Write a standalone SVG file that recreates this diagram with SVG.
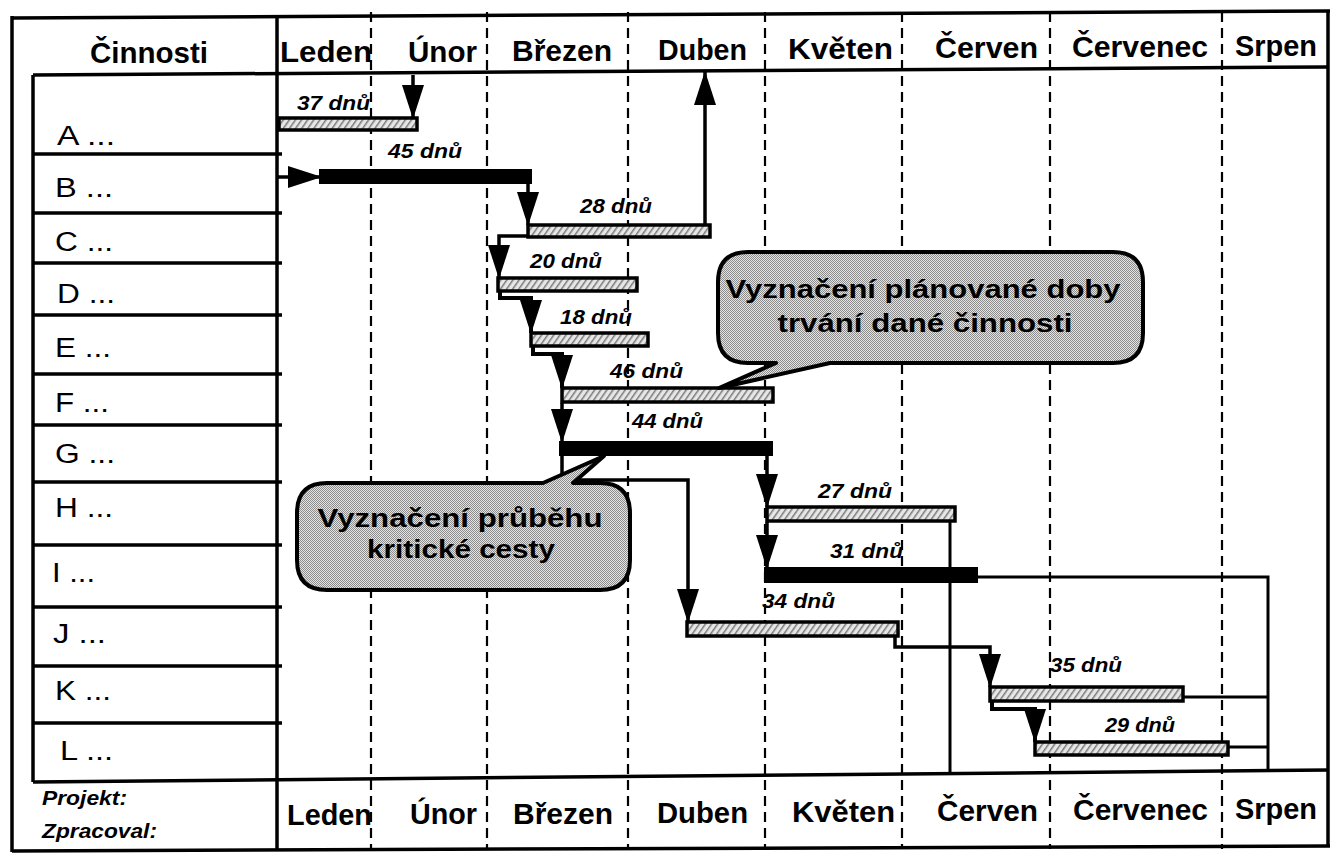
<svg xmlns="http://www.w3.org/2000/svg" width="1335" height="853" viewBox="0 0 1335 853">
<defs>
<style>
.frame{fill:none;stroke:#000;stroke-width:3.5}
.grid{fill:none;stroke:#000;stroke-width:2.2;stroke-dasharray:10 6}
.month{font-family:"Liberation Sans",Arial,sans-serif;font-weight:bold;font-size:29px}
.act{font-family:"Liberation Sans",Arial,sans-serif;font-size:27px}
.meta{font-family:"Liberation Sans",Arial,sans-serif;font-weight:bold;font-style:italic;font-size:20px}
.dur{font-family:"Liberation Sans",Arial,sans-serif;font-weight:bold;font-style:italic;font-size:21px}
.bar{fill:url(#hatch);stroke:#000;stroke-width:3.5}
.crit{fill:#000;stroke:#000;stroke-width:2}
.conn{fill:none;stroke:#000;stroke-width:3.5;marker-end:url(#arr)}
.link{fill:none;stroke:#000;stroke-width:3}
.callout{fill:url(#dither);stroke:#000;stroke-width:4;stroke-linejoin:round}
.ctext{font-family:"Liberation Sans",Arial,sans-serif;font-weight:bold;font-size:26px;text-anchor:middle}
</style>
<pattern id="hatch" width="5" height="5" patternUnits="userSpaceOnUse" patternTransform="rotate(35)">
<rect width="5" height="5" fill="#e6e6e6"/><rect width="1.5" height="5" fill="#7a7a7a"/>
</pattern>
<pattern id="dither" width="2" height="2" patternUnits="userSpaceOnUse">
<rect width="2" height="2" fill="#e4e4e4"/><rect width="1" height="1" fill="#8c8c8c"/><rect x="1" y="1" width="1" height="1" fill="#8c8c8c"/>
</pattern>
<marker id="arr" markerUnits="userSpaceOnUse" viewBox="0 0 34 22" markerWidth="34" markerHeight="22" refX="33" refY="11" orient="auto">
<path d="M0,0 L34,11 L0,22 Z" fill="#000"/>
</marker>
</defs>
<rect width="1335" height="853" fill="#fff"/>

<g id="grid">
<path class="grid" d="M371 12 V849 M487 12 V849 M628 12 V849 M765 12 V849 M902 12 V849 M1050 12 V849 M1222 12 V849"/>
</g>

<g id="frame">
<path class="frame" d="M12 18 L1330 11"/>
<path class="frame" d="M12 16 V852"/>
<path class="frame" d="M1328 10 V847"/>
<path class="frame" d="M12 851 L1330 846"/>
<path class="frame" d="M33 75 L1329 67"/>
<path class="frame" d="M277 17 V850"/>
<path class="frame" d="M33 75 V782"/>
<path class="frame" d="M33 782 L1329 770"/>
<path class="frame" d="M33 154 H282 M33 213 H282 M33 263 H282 M33 315 H282 M33 374 H282 M33 425 H282 M33 482 H282 M33 545 H282 M33 607 H282 M33 666 H282 M33 723 H282"/>
</g>

<g id="header">
<text class="month" x="149" y="63" text-anchor="middle" textLength="118" lengthAdjust="spacingAndGlyphs">Činnosti</text>
<text class="month" x="280" y="62" textLength="92" lengthAdjust="spacingAndGlyphs">Leden</text>
<text class="month" x="408" y="62" textLength="69" lengthAdjust="spacingAndGlyphs">Únor</text>
<text class="month" x="512" y="61" textLength="100" lengthAdjust="spacingAndGlyphs">Březen</text>
<text class="month" x="658" y="60" textLength="89" lengthAdjust="spacingAndGlyphs">Duben</text>
<text class="month" x="788" y="59" textLength="105" lengthAdjust="spacingAndGlyphs">Květen</text>
<text class="month" x="935" y="58" textLength="103" lengthAdjust="spacingAndGlyphs">Červen</text>
<text class="month" x="1072" y="57" textLength="136" lengthAdjust="spacingAndGlyphs">Červenec</text>
<text class="month" x="1235" y="56" textLength="82" lengthAdjust="spacingAndGlyphs">Srpen</text>
</g>

<g id="footer">
<text class="meta" x="42" y="805" textLength="85" lengthAdjust="spacingAndGlyphs">Projekt:</text>
<text class="meta" x="42" y="838" textLength="115" lengthAdjust="spacingAndGlyphs">Zpracoval:</text>
<text class="month" x="287" y="825" textLength="85" lengthAdjust="spacingAndGlyphs">Leden</text>
<text class="month" x="410" y="824" textLength="67" lengthAdjust="spacingAndGlyphs">Únor</text>
<text class="month" x="513" y="824" textLength="100" lengthAdjust="spacingAndGlyphs">Březen</text>
<text class="month" x="657" y="823" textLength="91" lengthAdjust="spacingAndGlyphs">Duben</text>
<text class="month" x="792" y="822" textLength="103" lengthAdjust="spacingAndGlyphs">Květen</text>
<text class="month" x="937" y="821" textLength="101" lengthAdjust="spacingAndGlyphs">Červen</text>
<text class="month" x="1073" y="820" textLength="135" lengthAdjust="spacingAndGlyphs">Červenec</text>
<text class="month" x="1235" y="819" textLength="82" lengthAdjust="spacingAndGlyphs">Srpen</text>
</g>

<g id="connectors">
<path class="link" d="M950 522 V773"/>
<path class="link" d="M977 577 H1268 V771"/>
<path class="link" d="M1183 697 H1268"/>
<path class="link" d="M1228 747 H1268"/>
<path class="conn" d="M413 75 V118"/>
<path class="conn" d="M278 177 H321"/>
<path class="conn" d="M528 183 V225"/>
<path class="conn" d="M705 225 V72"/>
<path class="conn" d="M528 236 H499 V278"/>
<path class="conn" style="stroke-width:4" d="M500 291 V298 H531 V333"/>
<path class="conn" style="stroke-width:4" d="M533 346 V354 H562 V388"/>
<path class="conn" d="M562 403 V442"/>
<path class="conn" d="M767 455 V507"/>
<path class="conn" d="M767 522 V568"/>
<path class="conn" d="M562 455 V480 H688 V622"/>
<path class="conn" d="M895 637 V647 H990 V687"/>
<path class="conn" style="stroke-width:4" d="M992 702 V709 H1035 V742"/>
</g>

<g id="task-A">
<text class="act" x="57" y="145" textLength="58" lengthAdjust="spacingAndGlyphs">A ...</text>
<rect class="bar" x="279" y="118" width="138" height="12"/>
<text class="dur" x="297" y="110" textLength="73" lengthAdjust="spacingAndGlyphs">37 dnů</text>
</g>
<g id="task-B">
<text class="act" x="55" y="197" textLength="58" lengthAdjust="spacingAndGlyphs">B ...</text>
<rect class="crit" x="320" y="170" width="211" height="13"/>
<text class="dur" x="388" y="158" textLength="74" lengthAdjust="spacingAndGlyphs">45 dnů</text>
</g>
<g id="task-C">
<text class="act" x="55" y="251" textLength="58" lengthAdjust="spacingAndGlyphs">C ...</text>
<rect class="bar" x="528" y="225" width="182" height="12"/>
<text class="dur" x="580" y="213" textLength="72" lengthAdjust="spacingAndGlyphs">28 dnů</text>
</g>
<g id="task-D">
<text class="act" x="57" y="303" textLength="58" lengthAdjust="spacingAndGlyphs">D ...</text>
<rect class="bar" x="498" y="278" width="139" height="13"/>
<text class="dur" x="530" y="268" textLength="72" lengthAdjust="spacingAndGlyphs">20 dnů</text>
</g>
<g id="task-E">
<text class="act" x="55" y="357" textLength="56" lengthAdjust="spacingAndGlyphs">E ...</text>
<rect class="bar" x="531" y="333" width="117" height="13"/>
<text class="dur" x="560" y="324" textLength="72" lengthAdjust="spacingAndGlyphs">18 dnů</text>
</g>
<g id="task-F">
<text class="act" x="55" y="412" textLength="54" lengthAdjust="spacingAndGlyphs">F ...</text>
<rect class="bar" x="562" y="388" width="211" height="14"/>
<text class="dur" x="610" y="378" textLength="73" lengthAdjust="spacingAndGlyphs">46 dnů</text>
</g>
<g id="task-G">
<text class="act" x="55" y="463" textLength="60" lengthAdjust="spacingAndGlyphs">G ...</text>
<rect class="crit" x="560" y="442" width="212" height="13"/>
<text class="dur" x="632" y="428" textLength="71" lengthAdjust="spacingAndGlyphs">44 dnů</text>
</g>
<g id="task-H">
<text class="act" x="55" y="517" textLength="58" lengthAdjust="spacingAndGlyphs">H ...</text>
<rect class="bar" x="767" y="507" width="188" height="14"/>
<text class="dur" x="818" y="498" textLength="74" lengthAdjust="spacingAndGlyphs">27 dnů</text>
</g>
<g id="task-I">
<text class="act" x="52" y="582" textLength="43" lengthAdjust="spacingAndGlyphs">I ...</text>
<rect class="crit" x="765" y="568" width="212" height="14"/>
<text class="dur" x="830" y="558" textLength="73" lengthAdjust="spacingAndGlyphs">31 dnů</text>
</g>
<g id="task-J">
<text class="act" x="53" y="643" textLength="53" lengthAdjust="spacingAndGlyphs">J ...</text>
<rect class="bar" x="687" y="622" width="211" height="14"/>
<text class="dur" x="762" y="608" textLength="73" lengthAdjust="spacingAndGlyphs">34 dnů</text>
</g>
<g id="task-K">
<text class="act" x="55" y="700" textLength="56" lengthAdjust="spacingAndGlyphs">K ...</text>
<rect class="bar" x="990" y="687" width="193" height="14"/>
<text class="dur" x="1050" y="672" textLength="72" lengthAdjust="spacingAndGlyphs">35 dnů</text>
</g>
<g id="task-L">
<text class="act" x="60" y="760" textLength="53" lengthAdjust="spacingAndGlyphs">L ...</text>
<rect class="bar" x="1035" y="742" width="193" height="13"/>
<text class="dur" x="1105" y="732" textLength="70" lengthAdjust="spacingAndGlyphs">29 dnů</text>
</g>

<g id="callout-duration">
<path class="callout" d="M748 252 H1113 Q1143 252 1143 282 V333 Q1143 363 1113 363 H830 L719 388 L776 363 H748 Q718 363 718 333 V282 Q718 252 748 252 Z"/>
<text class="ctext" x="923" y="298" textLength="395" lengthAdjust="spacingAndGlyphs">Vyznačení  plánované doby</text>
<text class="ctext" x="925" y="332" textLength="295" lengthAdjust="spacingAndGlyphs">trvání dané činnosti</text>
</g>

<g id="callout-critical">
<path class="callout" d="M327 483 H543 L604 456 L573 483 H600 Q630 483 630 513 V560 Q630 590 600 590 H327 Q297 590 297 560 V513 Q297 483 327 483 Z"/>
<text class="ctext" x="460" y="527" textLength="285" lengthAdjust="spacingAndGlyphs">Vyznačení  průběhu</text>
<text class="ctext" x="461" y="558" textLength="188" lengthAdjust="spacingAndGlyphs">kritické cesty</text>
</g>
</svg>
